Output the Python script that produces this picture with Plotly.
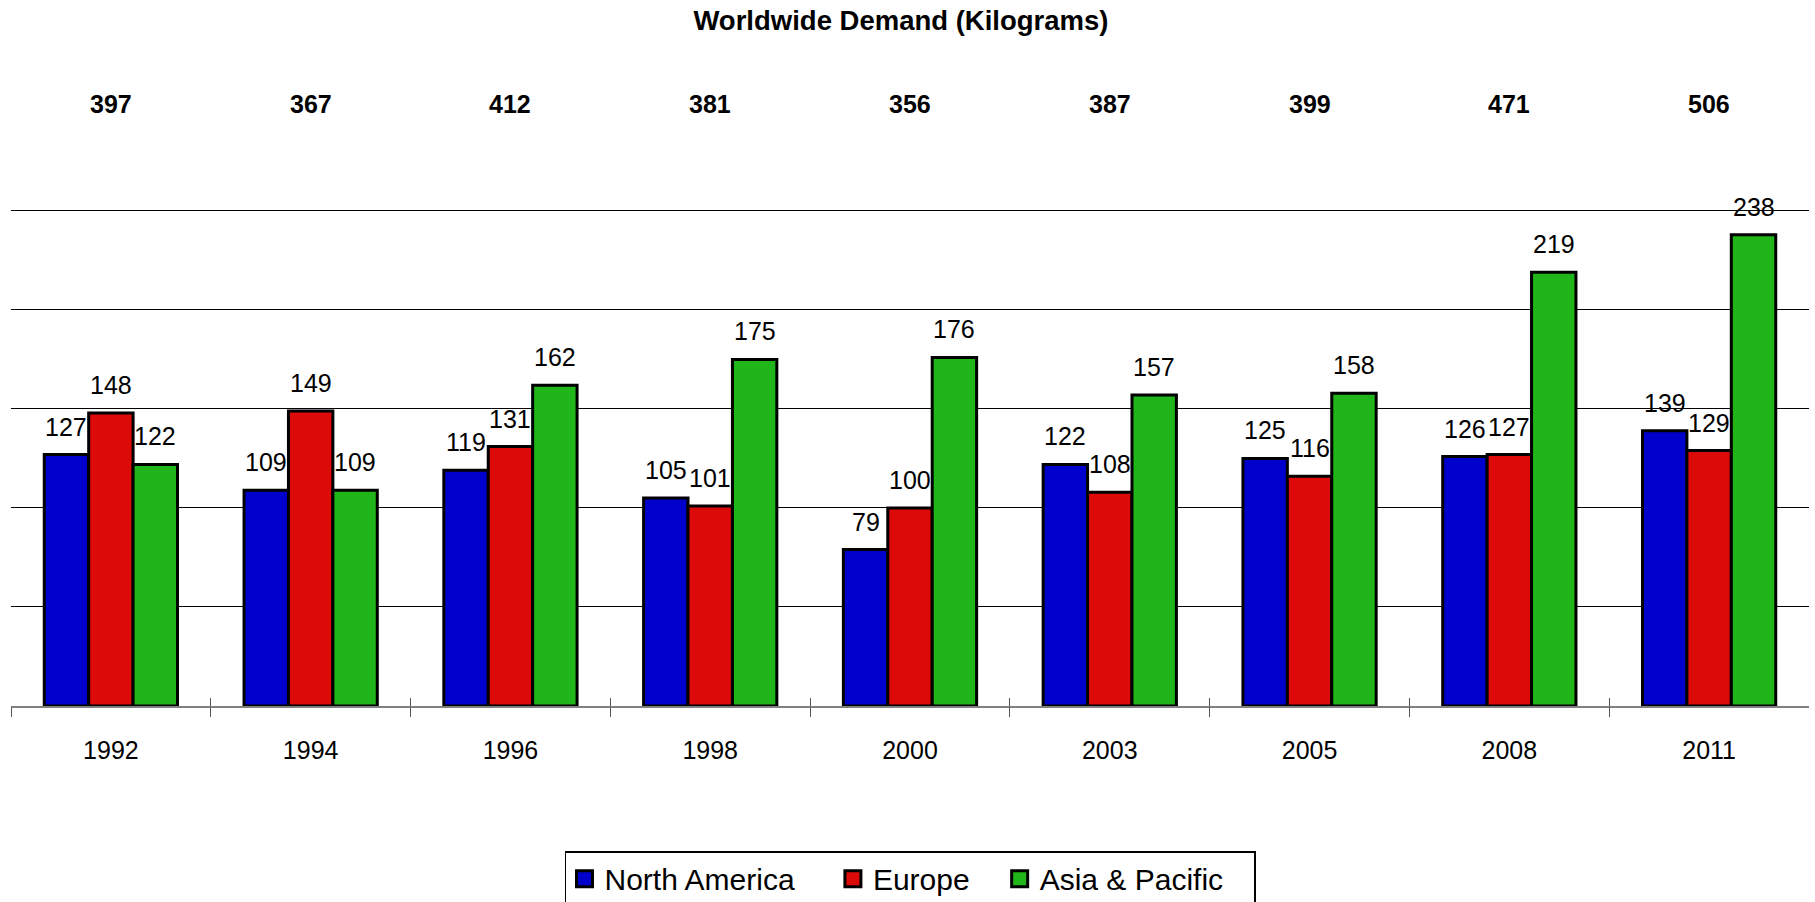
import plotly.graph_objects as go

years = ["1992", "1994", "1996", "1998", "2000", "2003", "2005", "2008", "2011"]
north_america = [127, 109, 119, 105, 79, 122, 125, 126, 139]
europe = [148, 149, 131, 101, 100, 108, 116, 127, 129]
asia_pacific = [122, 109, 162, 175, 176, 157, 158, 219, 238]
totals = [397, 367, 412, 381, 356, 387, 399, 471, 506]

FONT = "Liberation Sans, Arial, sans-serif"
NBSP = "\u00a0"

series_definitions = [
    ("North America", north_america, "#0000cc", 4),
    ("Europe", europe, "#dd0a0a", 3),
    ("Asia & Pacific", asia_pacific, "#20b518", 3),
]

positions = list(range(len(years)))
boundaries = [p - 0.5 for p in positions]
x_range = [-0.5, len(years) - 0.5]

fig = go.Figure()

for name, values, color, pad in series_definitions:
    fig.add_trace(
        go.Bar(
            x=positions,
            y=values,
            name=name,
            legendgroup=name,
            showlegend=False,
            marker={"color": color, "line": {"color": "#000000", "width": 3}},
        )
    )

# legend keys only (bigger squares than the default bar swatch)
for name, values, color, pad in series_definitions:
    fig.add_trace(
        go.Scatter(
            x=[positions[0]],
            y=[None],
            xaxis="x2",
            mode="markers",
            name=name + NBSP * pad,
            legendgroup=name,
            hoverinfo="skip",
            marker={"symbol": "square", "size": 16, "color": color,
                    "line": {"color": "#000000", "width": 3}},
        )
    )
# keeps the inner tick axis alive
fig.add_trace(go.Scatter(x=[positions[0]], y=[None], xaxis="x3", mode="markers",
                         showlegend=False, hoverinfo="skip"))

# value labels above each bar
bar_px = 44.4
for k, (name, values, color, pad) in enumerate(series_definitions):
    for pos, value in zip(positions, values):
        fig.add_annotation(
            x=pos, y=value, text=str(value), showarrow=False,
            xshift=(k - 1) * bar_px, yshift=28,
            font={"size": 25, "color": "#000000", "family": FONT},
        )

# totals row
for pos, total in zip(positions, totals):
    fig.add_annotation(
        x=pos, y=1.206, yref="paper", yanchor="middle",
        text=f"<b>{total}</b>", showarrow=False,
        font={"size": 25, "color": "#000000", "family": FONT},
    )

tick_axis = {
    "overlaying": "x",
    "range": x_range,
    "anchor": "y",
    "side": "bottom",
    "showgrid": False,
    "zeroline": False,
    "showline": False,
    "tickmode": "array",
    "tickvals": boundaries,
    "tickwidth": 1,
    "tickcolor": "#555555",
    "showticklabels": False,
}

fig.update_layout(
    width=1815,
    height=902,
    margin={"l": 11, "r": 6, "t": 207, "b": 196, "autoexpand": False},
    barmode="group",
    bargap=0.333,
    bargroupgap=0,
    paper_bgcolor="#ffffff",
    plot_bgcolor="#ffffff",
    font={"family": FONT, "color": "#000000"},
    title={
        "text": "<b>Worldwide Demand (Kilograms)</b>",
        "x": 0.4964, "xanchor": "center",
        "y": 0.977, "yanchor": "middle",
        "font": {"size": 27.5, "family": FONT, "color": "#000000"},
    },
    xaxis={
        "range": x_range,
        "tickmode": "array",
        "tickvals": positions,
        "ticktext": years,
        "showgrid": False,
        "zeroline": False,
        "showline": True,
        "linecolor": "#808080",
        "linewidth": 2,
        "ticks": "",
        "ticklabelstandoff": 21,
        "tickangle": 0,
        "tickfont": {"size": 25, "family": FONT, "color": "#000000"},
    },
    xaxis2={**tick_axis, "ticks": "outside", "ticklen": 10},
    xaxis3={**tick_axis, "ticks": "inside", "ticklen": 8},
    yaxis={
        "range": [0, 252],
        "tickmode": "array",
        "tickvals": [0, 50, 100, 150, 200, 250],
        "showgrid": True,
        "gridcolor": "#000000",
        "gridwidth": 1,
        "zeroline": False,
        "showline": False,
        "showticklabels": False,
        "ticks": "",
    },
    legend={
        "orientation": "h",
        "x": 0.5, "xanchor": "center",
        "y": -0.291, "yanchor": "top",
        "bordercolor": "#000000",
        "borderwidth": 1.5,
        "bgcolor": "#ffffff",
        "font": {"size": 30, "family": FONT, "color": "#000000"},
        "itemsizing": "trace",
    },
    showlegend=True,
)

fig.write_html(
    "out.html",
    config={"displayModeBar": False},
    post_script="document.body.style.margin='0';",
)
